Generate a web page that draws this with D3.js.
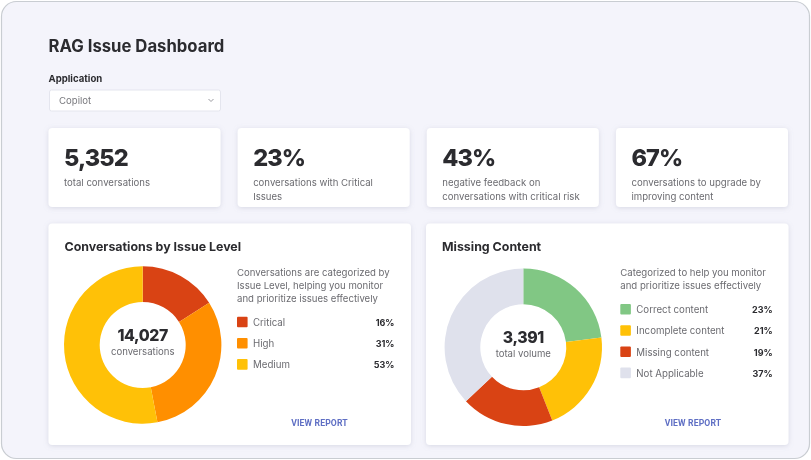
<!DOCTYPE html>
<html>
<head>
<meta charset="utf-8">
<script src="https://cdn.jsdelivr.net/npm/d3@7"></script>
<style>
  html, body { margin: 0; background: #fff; }
  svg { display: block; font-family: Inter, "Open Sans", sans-serif; filter: blur(0.5px); }
</style>
</head>
<body>
<div id="chart"></div>
<script>
// kpi row
let kpiValues = ['5,352', '23%', '43%', '67%']
let kpiLabels = [
  ['total conversations'],
  ['conversations with Critical', 'Issues'],
  ['negative feedback on', 'conversations with critical risk'],
  ['conversations to upgrade by', 'improving content']
]

// left donut
let issueLevels = ['Critical', 'High', 'Medium']
let issueShares = [16, 31, 53]
let issueColors = ['#d94314', '#ff8f00', '#ffc107']
let issueNote = ['Conversations are categorized by', 'Issue Level, helping you monitor', 'and prioritize issues effectively']

// right donut
let contentLevels = ['Correct content', 'Incomplete content', 'Missing content', 'Not Applicable']
let contentShares = [23, 21, 19, 37]
let contentColors = ['#81c784', '#ffc107', '#d94314', '#dfe1ec']
let contentNote = ['Categorized to help you monitor', 'and prioritize issues effectively']

let w = 811, h = 460
let dark = '#2b2b2f', grey = '#6b6b70'

let svg = d3.select('#chart').append('svg').attr('width', w).attr('height', h)

let defs = svg.append('defs')
let shadow = defs.append('filter').attr('id', 'shadow').attr('x', '-10%').attr('y', '-10%').attr('width', '120%').attr('height', '125%')
shadow.append('feDropShadow').attr('dx', 0).attr('dy', 1).attr('stdDeviation', 2.5).attr('flood-color', '#8a8fa8').attr('flood-opacity', 0.28)

svg.append('rect').attr('x', 1.5).attr('y', 1.5).attr('width', 808).attr('height', 457).attr('rx', 15)
  .attr('fill', '#f4f4fb').attr('stroke', '#c9cdd2').attr('stroke-width', 1.2)

function label(g, x, y, str, size, weight, color, anchor) {
  return g.append('text').attr('x', x).attr('y', y).text(str)
    .attr('font-size', size).attr('font-weight', weight).attr('fill', color)
    .attr('text-anchor', anchor || 'start')
}

function card(x, y, cw, ch) {
  return svg.append('rect').attr('x', x).attr('y', y).attr('width', cw).attr('height', ch).attr('rx', 4)
    .attr('fill', '#fff').attr('filter', 'url(#shadow)')
}

label(svg, 48.5, 52, 'RAG Issue Dashboard', 16.7, 700, dark)
label(svg, 48.5, 82, 'Application', 9.6, 700, dark)

svg.append('rect').attr('x', 49.5).attr('y', 90).attr('width', 171).attr('height', 21).attr('rx', 2)
  .attr('fill', '#fff').attr('stroke', '#e4e5ee')
label(svg, 59, 104, 'Copilot', 9.6, 400, '#77777c')
svg.append('path').attr('d', d3.line()([[208.5, 99], [211, 101.5], [213.5, 99]]))
  .attr('fill', 'none').attr('stroke', '#9a9aa0')

// kpi cards
let kpiX = d3.scaleBand().domain(d3.range(kpiValues.length)).range([48.5, 788]).paddingInner(0.0905)
kpiValues.forEach((v, i) => {
  card(kpiX(i), 128, kpiX.bandwidth(), 79)
  label(svg, kpiX(i) + 15.5, 166, v, 23.5, 800, dark).attr('letter-spacing', -0.9)
  kpiLabels[i].forEach((line, j) => label(svg, kpiX(i) + 15.5, 186 + j * 13.5, line, 9.6, 400, grey))
})

function donutPanel(p) {
  card(p.x, 223.5, 362.5, 221.5)
  label(svg, p.x + 16, 251, p.title, 12.4, 700, dark)

  let pie = d3.pie().sort(null).value(d => d)
  let arc = d3.arc().innerRadius(43).outerRadius(78.7)
  let g = svg.append('g').attr('transform', 'translate(' + p.cx + ',' + p.cy + ')')
  g.selectAll('path').data(pie(p.values)).enter().append('path')
    .attr('d', arc).attr('fill', (d, i) => p.colors[i])

  label(svg, p.cx, p.cy - 4.5, p.total, 15.8, 800, dark, 'middle').attr('letter-spacing', -0.4)
  label(svg, p.cx, p.cy + 10, p.unit, 9.6, 400, grey, 'middle')

  p.note.forEach((line, j) => label(svg, p.legendX, 275.5 + j * 13.3, line, 9.6, 400, grey))

  let color = d3.scaleOrdinal().domain(p.names).range(p.colors)
  let y = d3.scalePoint().domain(p.names).range([p.legendY, p.legendY + (p.names.length - 1) * 21.2])
  p.names.forEach((name, i) => {
    svg.append('rect').attr('x', p.legendX).attr('y', y(name) - 5.3).attr('width', 10.6).attr('height', 10.6)
      .attr('rx', 1).attr('fill', color(name))
    label(svg, p.legendX + 16, y(name) + 3.8, name, 9.7, 400, grey)
    label(svg, p.pctX, y(name) + 3.8, p.values[i] + '%', 9, 700, dark, 'end')
  })

  svg.append('text').attr('x', p.linkX).attr('y', 426).text('VIEW REPORT')
    .attr('font-family', 'Roboto').attr('font-size', 8.6).attr('font-weight', 700)
    .attr('letter-spacing', 0.15).attr('fill', '#5f6fc4').attr('text-anchor', 'middle')
}

donutPanel({ x: 48.5, title: 'Conversations by Issue Level', cx: 142.7, cy: 345, values: issueShares, names: issueLevels,
  colors: issueColors, total: '14,027', unit: 'conversations', note: issueNote, legendX: 237, legendY: 322, pctX: 394.5, linkX: 319.5 })
donutPanel({ x: 426, title: 'Missing Content', cx: 523.3, cy: 347.3, values: contentShares, names: contentLevels,
  colors: contentColors, total: '3,391', unit: 'total volume', note: contentNote, legendX: 620.3, legendY: 309.3, pctX: 772.7, linkX: 693 })
</script>
</body>
</html>
